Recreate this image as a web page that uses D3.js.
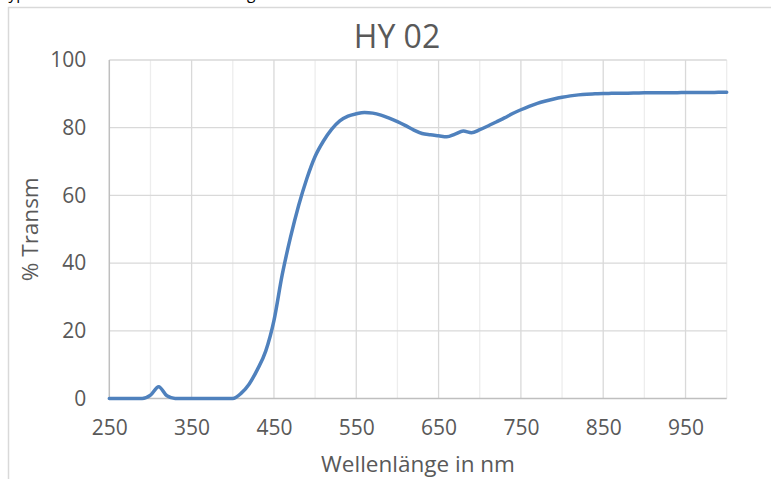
<!DOCTYPE html>
<html>
<head>
<meta charset="utf-8">
<script src="https://cdn.jsdelivr.net/npm/d3@7"></script>
<style>
  html, body { margin: 0; padding: 0; background: #fff; }
  svg { display: block; }
  text { font-family: "Open Sans", "Noto Sans", sans-serif; }
</style>
</head>
<body>
<svg id="chart" width="771" height="479"></svg>
<script>
// Transmission spectrum of filter HY 02 (% transmission vs. wavelength)
const wavelengths = [250,260,270,280,290,300,310,320,330,340,350,360,370,380,390,400,
  410,420,430,440,450,460,470,480,490,500,510,520,530,540,550,560,570,580,590,600,
  610,620,630,640,650,660,670,680,690,700,710,720,730,740,750,760,770,780,790,800,
  810,820,830,840,850,860,870,880,890,900,910,920,930,940,950,960,970,980,990,1000];
const transmission = [0,0,0,0,0,1.0,3.5,0.8,0,0,0,0,0,0,0,0,
  1.5,4.3,8.6,14.0,23.0,36.5,47.5,57.0,65.0,71.5,76.0,79.5,82.0,83.4,84.1,84.5,84.3,83.7,82.8,81.8,
  80.6,79.3,78.3,77.9,77.6,77.3,78.1,79.0,78.5,79.4,80.5,81.7,82.9,84.2,85.3,86.3,87.2,87.9,88.5,89.0,
  89.4,89.7,89.9,90.0,90.1,90.15,90.2,90.2,90.25,90.3,90.3,90.3,90.35,90.35,90.4,90.4,90.4,90.4,90.45,90.45];
const xMajorTicks = [250,350,450,550,650,750,850,950];
const xMinorTicks = [300,400,500,600,700,800,900,1000];
const yTicks = [0,20,40,60,80,100];
const chartTitle = "HY 02";
const xTitle = "Wellenlänge in nm";
const yTitle = "% Transm";
const headerText = "Typische Transmission der Färbung";

const svg = d3.select("#chart");
const textColor = "#595959";

// Line of text from the page above the chart, cut off by the top edge
svg.append("text")
  .attr("x", 0).attr("y", -1)
  .attr("font-size", 15.5)
  .attr("fill", "#000")
  .text(headerText);

// Chart area frame
svg.append("rect")
  .attr("x", 8.5).attr("y", 7.5)
  .attr("width", 800).attr("height", 500)
  .attr("fill", "#fff")
  .attr("stroke", "#d9d9d9")
  .attr("stroke-width", 1.5);

const x = d3.scaleLinear().domain([250, 1000]).range([109.3, 726.7]);
const y = d3.scaleLinear().domain([0, 100]).range([398.5, 60]);

const grid = svg.append("g");
// minor vertical gridlines
grid.selectAll("line.vmin").data(xMinorTicks).join("line")
  .attr("x1", d => x(d)).attr("x2", d => x(d))
  .attr("y1", y(100)).attr("y2", y(0))
  .attr("stroke", "#ededed").attr("stroke-width", 1.3);
// major vertical gridlines
grid.selectAll("line.vmaj").data(xMajorTicks.filter(d => d !== 250)).join("line")
  .attr("x1", d => x(d)).attr("x2", d => x(d))
  .attr("y1", y(100)).attr("y2", y(0))
  .attr("stroke", "#d9d9d9").attr("stroke-width", 1.3);
// horizontal gridlines
grid.selectAll("line.h").data(yTicks.filter(d => d !== 0)).join("line")
  .attr("x1", x(250)).attr("x2", x(1000))
  .attr("y1", d => y(d)).attr("y2", d => y(d))
  .attr("stroke", "#d9d9d9").attr("stroke-width", 1.3);

// axis lines
svg.append("line")
  .attr("x1", x(250)).attr("x2", x(250)).attr("y1", y(100)).attr("y2", y(0))
  .attr("stroke", "#bfbfbf").attr("stroke-width", 1.5);
svg.append("line")
  .attr("x1", x(250)).attr("x2", x(1000)).attr("y1", y(0)).attr("y2", y(0))
  .attr("stroke", "#bfbfbf").attr("stroke-width", 1.5);

// axes (labels only)
const xAxis = svg.append("g")
  .attr("transform", `translate(0,${y(0)})`)
  .call(d3.axisBottom(x).tickValues(xMajorTicks).tickSize(0).tickPadding(22).tickFormat(d3.format("d")));
xAxis.select(".domain").remove();
xAxis.selectAll("text")
  .attr("font-size", 21).attr("fill", textColor)
  .style("font-family", "'Open Sans', sans-serif");

const yAxis = svg.append("g")
  .attr("transform", `translate(${x(250)},0)`)
  .call(d3.axisLeft(y).tickValues(yTicks).tickSize(0).tickPadding(23).tickFormat(d3.format("d")));
yAxis.select(".domain").remove();
yAxis.selectAll("text")
  .attr("font-size", 21).attr("fill", textColor)
  .style("font-family", "'Open Sans', sans-serif");

// data line
const points = wavelengths.map((w, i) => [w, transmission[i]]);
svg.append("path")
  .datum(points)
  .attr("fill", "none")
  .attr("stroke", "#4f81bd")
  .attr("stroke-width", 3.5)
  .attr("stroke-linejoin", "round")
  .attr("stroke-linecap", "round")
  .attr("d", d3.line().x(d => x(d[0])).y(d => y(d[1])).curve(d3.curveMonotoneX));

// titles
svg.append("text")
  .attr("x", 397).attr("y", 48)
  .attr("text-anchor", "middle")
  .attr("font-size", 32).attr("fill", textColor)
  .text(chartTitle);

svg.append("text")
  .attr("x", (x(250) + x(1000)) / 2).attr("y", 472)
  .attr("text-anchor", "middle")
  .attr("font-size", 22.5).attr("fill", textColor)
  .text(xTitle);

svg.append("text")
  .attr("transform", `translate(38,${(y(0) + y(100)) / 2}) rotate(-90)`)
  .attr("text-anchor", "middle")
  .attr("font-size", 22.5).attr("fill", textColor)
  .text(yTitle);
</script>
</body>
</html>
